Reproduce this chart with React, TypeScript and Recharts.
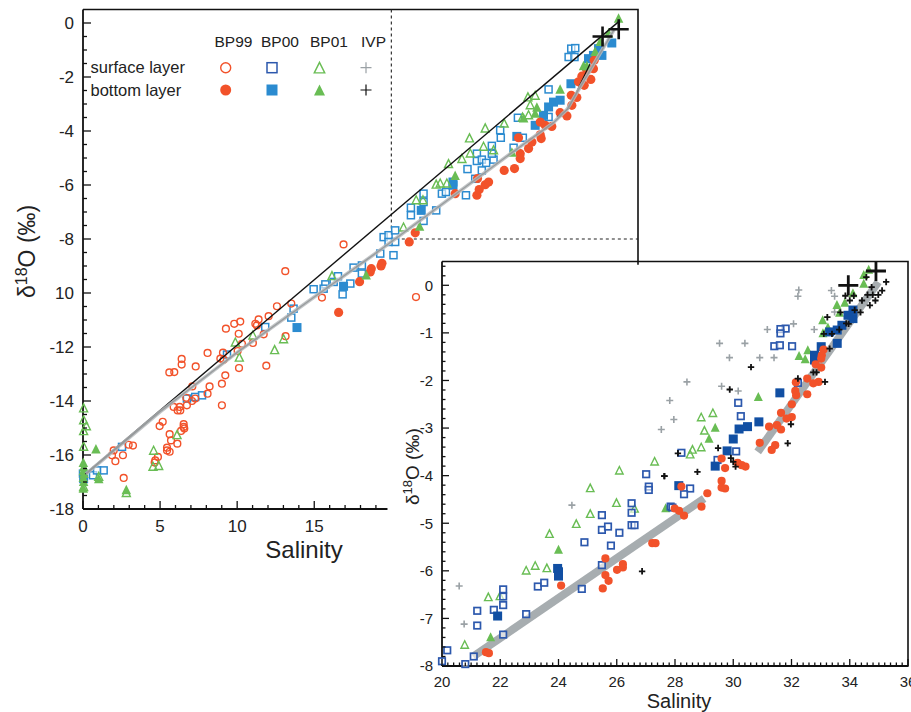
import { ScatterChart, Scatter, XAxis, YAxis } from 'recharts';

type Pt = [number, number];

// main panel as [salinity, d18O]
const bp99Surface: Pt[] = [
  [13.12, -9.19], [15.5, -10.17], [13.51, -10.39], [12.58, -10.49], [11.39, -10.98], [12.04, -10.86], [11.18, -11.14],
  [11.28, -11.2], [10.2, -11.06], [9.81, -11.14], [9.27, -11.32], [10.1, -11.51], [11.72, -11.53], [13.14, -11.6],
  [11.02, -11.85], [10.31, -11.88], [10.03, -12.15], [8.08, -12.22], [9.08, -12.21], [8.91, -12.43], [9.12, -12.47],
  [6.4, -12.44], [6.4, -12.65], [7.31, -12.72], [5.6, -12.94], [5.92, -12.93], [10.12, -12.78], [11.89, -12.69],
  [9.23, -13.05], [9.01, -13.36], [7.09, -13.46], [8.21, -13.46], [8.08, -13.73], [7.28, -13.91], [7.07, -14.0],
  [6.7, -13.88], [6.74, -14.16], [5.88, -14.22], [6.27, -14.22], [6.14, -14.35], [6.31, -14.35], [9.01, -14.16],
  [5.17, -14.77], [4.97, -14.93], [6.53, -14.86], [6.53, -14.96], [6.57, -15.02], [6.36, -15.11], [5.62, -15.23],
  [5.71, -15.46], [6.12, -15.58], [5.45, -15.73], [5.45, -15.83], [5.62, -15.88], [1.99, -15.83], [2.96, -15.62],
  [3.24, -15.65], [1.88, -16.01], [2.59, -16.01], [2.1, -16.23], [4.86, -16.07], [4.69, -16.2], [4.65, -16.28],
  [2.64, -16.85], [16.9, -8.2], [21.6, -10.15],
];
const bp99Bottom: Pt[] = [
  [16.58, -10.72], [17.94, -9.58], [18.63, -9.22], [18.7, -9.1], [19.33, -9.0], [19.39, -8.9], [21.16, -8.11],
  [21.55, -7.77], [24.14, -6.32], [25.55, -6.38], [25.7, -6.17], [26.09, -5.99], [26.31, -5.89], [25.59, -5.76],
  [27.32, -5.46], [27.99, -5.39], [28.36, -5.02], [28.36, -4.84], [28.9, -4.65], [29.12, -4.41], [29.72, -4.28],
  [29.66, -4.14], [30.41, -3.83], [29.98, -3.79], [29.66, -3.67], [30.95, -3.32], [31.39, -3.44], [31.67, -2.68],
  [32.03, -2.76], [31.71, -3.05], [32.51, -2.31], [32.94, -2.09], [32.14, -2.18], [32.36, -1.97], [32.68, -1.75],
  [33.11, -1.69], [33.16, -1.38], [28.25, -4.25],
];
const bp00Surface: Pt[] = [
  [0.0, -16.69], [0.65, -16.75], [1.34, -16.57], [0.91, -16.57], [2.53, -15.7], [6.74, -13.91], [7.28, -13.85],
  [7.72, -13.79], [9.34, -12.28], [11.82, -11.26], [13.51, -10.91], [13.66, -10.58], [14.96, -9.86], [15.72, -9.68],
  [15.61, -9.84], [16.26, -9.59], [16.54, -9.38], [16.84, -10.05], [17.34, -9.65], [17.55, -9.06], [18.09, -8.98],
  [18.09, -9.28], [19.28, -8.54], [20.14, -8.6], [19.5, -7.93], [19.82, -7.86], [20.25, -7.68], [20.25, -8.11],
  [19.82, -8.11], [22.09, -7.33], [22.91, -6.94], [21.27, -7.12], [21.27, -6.84], [22.09, -6.63], [22.09, -6.32],
  [23.28, -6.32], [23.54, -6.26], [24.84, -6.38], [24.94, -5.41], [25.44, -5.77], [25.87, -5.46], [25.55, -5.11],
  [25.55, -4.84], [25.87, -5.06], [26.15, -5.18], [26.63, -5.06], [26.52, -4.55], [26.52, -4.84], [27.1, -4.25],
  [27.06, -3.97], [27.93, -4.62], [28.53, -4.25], [28.21, -3.51], [30.2, -2.46], [30.2, -3.48], [31.5, -1.26],
  [31.88, -1.26], [31.67, -0.95], [31.93, -0.93],
];
const bp00Bottom: Pt[] = [
  [13.88, -11.28], [16.9, -9.75], [0.04, -16.88], [21.94, -6.94], [24.0, -6.01], [24.0, -5.89], [28.14, -4.2],
  [29.33, -3.79], [29.87, -3.42], [30.2, -3.11], [30.52, -2.93], [30.95, -2.86], [31.65, -2.25], [32.79, -1.32],
  [33.11, -1.2], [33.66, -1.2], [33.44, -0.95], [34.3, -0.74],
];
const bp01Surface: Pt[] = [
  [0.04, -14.28], [0.04, -14.72], [0.22, -14.94], [0.04, -15.12], [0.04, -15.7], [9.88, -11.84], [10.14, -12.4],
  [11.02, -11.58], [13.01, -11.72], [12.43, -12.12], [16.15, -9.38], [6.1, -15.27], [4.58, -15.85], [4.54, -16.44],
  [4.91, -16.41], [2.81, -17.41], [1.02, -16.81], [0.04, -17.19], [20.79, -7.58], [22.05, -6.57], [21.61, -6.57],
  [22.91, -5.99], [23.17, -5.95], [23.6, -5.95], [23.71, -5.23], [24.58, -5.04], [25.07, -4.28], [25.12, -4.84],
  [25.98, -4.59], [26.63, -4.72], [26.09, -3.91], [27.32, -3.73], [28.51, -3.51], [28.9, -3.42], [28.86, -2.76],
  [29.33, -2.7], [29.01, -3.05],
];
const bp01Bottom: Pt[] = [
  [0.84, -15.8], [2.81, -17.31], [0.02, -16.3], [0.05, -16.45], [0.02, -16.6], [0.06, -16.7], [0.02, -16.85],
  [0.04, -17.0], [0.02, -17.25], [18.37, -9.35], [1.02, -16.9], [21.83, -7.55], [24.14, -5.67], [29.44, -3.14],
  [29.33, -3.36], [28.58, -3.54], [30.95, -2.47], [32.47, -1.6], [32.68, -1.6], [33.22, -1.07], [33.55, -0.7],
  [34.09, -0.39], [34.74, 0.16], [27.82, -4.81],
];
const ivpMeanMain: Pt[] = [[33.7, -0.5], [34.75, -0.23]];

const mixLineMain: Pt[] = [[0.15, -16.7], [34.75, 0.05]];
const fitLineMain: Pt[] = [
  [0.2, -16.7], [5, -14.4], [10, -12.2], [15, -10.15], [19.3, -8.4], [27.7, -4.85], [30.5, -3.7], [31.4, -3.2], [34.5, -0.2],
];
const fitEdgeMain: Pt[] = [[30.74, -3.48], [31.5, -3.17], [32.9, -1.5]];
const frameMain: Pt[] = [[0, 0.5], [36, 0.5], [36, -8.95]];
const bottomAxisMain: Pt[] = [[0, -18], [19.75, -18]];
const zoomBox: Pt[] = [[20, 0.5], [20, -8], [36, -8]];

// inset panel
const insetBp99Bottom: Pt[] = [
  [21.51, -7.71], [21.61, -7.73], [24.09, -6.31], [25.52, -6.37], [25.72, -6.21], [25.61, -6.09], [25.61, -5.74],
  [26.01, -5.98], [26.21, -5.93], [26.21, -5.86], [27.22, -5.42], [27.33, -5.42], [33.1, -1.35], [33.04, -1.47],
  [33.02, -1.54], [33.02, -1.73], [32.83, -1.66], [32.54, -1.96], [32.93, -2.03], [32.75, -2.06], [32.15, -2.04],
  [32.13, -2.22], [32.16, -2.31], [32.54, -2.29], [32.01, -2.5], [31.64, -2.68], [32.01, -2.77], [31.83, -2.8],
  [31.5, -2.94], [31.64, -3.03], [31.23, -2.97], [30.91, -3.31], [31.44, -3.36], [31.32, -3.46], [29.6, -3.64],
  [29.72, -3.84], [30.15, -3.73], [30.29, -3.78], [30.42, -3.81], [29.6, -4.11], [29.6, -4.25], [29.72, -4.27],
  [29.11, -4.37], [28.22, -4.23], [28.91, -4.65], [27.99, -4.69], [28.14, -4.74], [28.31, -4.84],
];
const insetBp00Surface: Pt[] = [
  [20.0, -7.9], [20.18, -7.67], [20.8, -7.96], [21.09, -7.8], [22.1, -7.34], [21.21, -7.15], [21.21, -6.84],
  [21.78, -6.82], [22.1, -6.72], [22.1, -6.54], [22.1, -6.39], [22.89, -6.91], [23.29, -6.33], [23.51, -6.25],
  [24.8, -6.38], [24.89, -5.4], [25.49, -5.88], [25.8, -5.47], [25.49, -5.14], [25.7, -5.07], [26.09, -5.2],
  [25.49, -4.83], [26.51, -5.04], [26.61, -5.04], [26.51, -4.78], [26.51, -4.58], [27.01, -3.97], [27.1, -4.23],
  [27.1, -4.3], [27.85, -4.65], [31.8, -0.91], [31.62, -0.92], [31.62, -1.01], [31.41, -1.28], [31.6, -1.26],
  [32.02, -1.28], [30.17, -2.47], [30.26, -2.75], [30.1, -3.49], [29.46, -3.67], [28.22, -3.52], [28.52, -4.27],
  [28.31, -4.39], [27.91, -4.67], [32.22, -2.05],
];
const insetBp00Bottom: Pt[] = [
  [21.91, -6.95], [23.97, -5.95], [24.0, -6.02], [24.0, -6.11], [34.11, -0.7], [34.11, -0.52], [33.94, -0.63],
  [33.73, -0.84], [33.57, -0.94], [33.31, -0.98], [33.57, -1.22], [33.02, -1.29], [32.79, -1.47], [32.79, -1.57],
  [31.6, -2.26], [30.88, -2.87], [30.49, -2.97], [30.2, -3.02], [30.0, -3.23], [29.79, -3.48], [29.38, -3.8], [28.13, -4.21],
];
const insetBp01Surface: Pt[] = [
  [20.78, -7.56], [21.59, -6.56], [21.99, -6.54], [22.89, -6.0], [23.2, -5.9], [23.6, -5.95], [23.69, -5.23],
  [24.61, -5.02], [25.09, -4.81], [25.09, -4.27], [25.99, -4.58], [26.09, -3.9], [26.61, -4.7], [27.3, -3.71],
  [29.3, -2.69], [28.9, -2.78], [29.01, -3.06], [28.9, -3.41], [28.6, -3.46], [28.52, -3.56],
];
const insetBp01Bottom: Pt[] = [
  [21.67, -7.4], [24.0, -5.56], [27.68, -4.69], [30.86, -2.35], [29.38, -3.0], [29.17, -3.23], [32.56, -1.37],
  [32.26, -1.49], [32.47, -1.56], [33.25, -0.89], [33.07, -0.74], [33.08, -1.01], [33.56, -0.42], [33.65, -0.58],
  [33.83, -0.37], [34.11, -0.17], [34.48, 0.03], [34.48, 0.21], [34.65, 0.32],
];
const insetIvpSurface: Pt[] = [
  [20.59, -6.32], [20.76, -7.12], [24.46, -4.62], [32.25, -0.1], [32.22, -0.23], [33.37, -0.11], [33.48, -0.23],
  [33.48, -0.56], [32.07, -0.81], [32.78, -0.93], [31.17, -0.93], [29.53, -1.22], [30.4, -1.22], [29.87, -1.52],
  [30.91, -1.52], [31.4, -1.52], [28.41, -2.03], [29.6, -2.12], [30.17, -2.22], [27.82, -2.42], [27.96, -2.82], [27.53, -3.03],
];
const insetIvpBottom: Pt[] = [
  [27.64, -4.01], [26.87, -6.01], [35.25, 0.07], [35.11, -0.11], [34.98, -0.2], [34.88, -0.32], [34.79, -0.2],
  [34.61, -0.2], [34.75, -0.04], [34.69, -0.42], [34.42, -0.32], [34.57, 0.17], [34.37, -0.57], [34.17, -0.52],
  [34.14, -0.22], [33.85, -0.22], [34.0, -0.32], [33.68, -0.57], [33.88, -0.8], [33.96, -0.81], [33.64, -0.93],
  [33.39, -1.02], [33.11, -1.02], [33.23, -0.67], [33.31, -1.33], [32.75, -1.83], [32.86, -1.83], [32.22, -1.96],
  [33.15, -2.03], [31.98, -2.92], [31.87, -3.32], [30.61, -1.72], [29.88, -2.19], [29.48, -3.42], [29.92, -3.63],
  [30.0, -3.71], [30.08, -3.81], [28.1, -3.53], [28.77, -3.92], [27.63, -4.01],
];
const ivpMeanInset: Pt[] = [[33.95, 0.0], [34.9, 0.3]];
const insetFitLow: Pt[] = [[21.07, -7.8], [29.0, -4.48]];
const insetFitHigh: Pt[] = [[30.84, -3.5], [34.98, 0.07]];
const frameInset: Pt[] = [[20, 0.5], [36, 0.5], [36, -8], [20, -8]];

const mainYLabels: Record<string, string> = {
  '0': '0', '-2': '-2', '-4': '-4', '-6': '-6', '-8': '-8', '-10': '10', '-12': '-12', '-14': '-14', '-16': '-16', '-18': '-18',
};

const RED = '#f2522a';
const BLUE = '#2b8bd0';
const BLUE_DARK = '#114fa3';
const BLUE_OPEN = '#2c58ad';
const GREEN = '#69bd54';
const GREY_PLUS = '#9aa1a5';

const range = (from: number, to: number, step: number) => {
  const out: number[] = [];
  for (let i = 0; from + i * step <= to + 1e-6; i++) out.push(+(from + i * step).toFixed(2));
  return out;
};

const pts = (list: Pt[]) => list.map(([s, d]) => ({ s, d }));

const circle = (r: number, color: string, open: boolean, sw = 1.4) => (p: any) => (
  <circle cx={p.cx} cy={p.cy} r={r} fill={open ? 'none' : color} stroke={color} strokeWidth={open ? sw : 0} />
);
const square = (a: number, color: string, open: boolean, sw = 1.5) => (p: any) => (
  <rect x={p.cx - a / 2} y={p.cy - a / 2} width={a} height={a} fill={open ? '#fff' : color} fillOpacity={open ? 0.6 : 1} stroke={open ? color : 'none'} strokeWidth={sw} />
);
const triangle = (a: number, color: string, open: boolean, sw = 1.4) => (p: any) => (
  <path
    d={`M${p.cx} ${p.cy - a * 0.58}L${p.cx + a / 2} ${p.cy + a * 0.42}L${p.cx - a / 2} ${p.cy + a * 0.42}Z`}
    fill={open ? 'none' : color}
    stroke={open ? color : 'none'}
    strokeWidth={sw}
  />
);
const plus = (arm: number, color: string, sw: number) => (p: any) => (
  <path d={`M${p.cx - arm} ${p.cy}H${p.cx + arm}M${p.cx} ${p.cy - arm}V${p.cy + arm}`} stroke={color} strokeWidth={sw} fill="none" />
);
const noMark = () => <g />;

const FONT = '"Liberation Sans", Arial, sans-serif';

const yTick = (major: (v: number) => boolean, long: number, short: number, size: number, label: (v: number) => string) => (p: any) => {
  const v = p.payload.value;
  const isMajor = major(v);
  return (
    <g>
      <line x1={p.x} y1={p.y} x2={p.x + (isMajor ? long : short)} y2={p.y} stroke="#111" strokeWidth={1.3} />
      {isMajor && (
        <text x={p.x - 9} y={p.y + size * 0.36} textAnchor="end" fontSize={size} fontFamily={FONT} fill="#222">
          {label(v)}
        </text>
      )}
    </g>
  );
};
const xTick = (major: (v: number) => boolean, long: number, short: number, size: number, dy: number) => (p: any) => {
  const v = p.payload.value;
  const isMajor = major(v);
  return (
    <g>
      <line x1={p.x} y1={p.y} x2={p.x} y2={p.y - (isMajor ? long : short)} stroke="#111" strokeWidth={1.3} />
      {isMajor && (
        <text x={p.x} y={p.y + dy} textAnchor="middle" fontSize={size} fontFamily={FONT} fill="#222">
          {v}
        </text>
      )}
    </g>
  );
};

const isWhole = (v: number, n: number) => Math.abs(v / n - Math.round(v / n)) < 1e-6;

function MainChart() {
  return (
    <ScatterChart width={911} height={712} margin={{ left: 82, right: 273, top: 9.5, bottom: 202 }} style={{ position: 'absolute', left: 0, top: 0 }}>
      <XAxis
        type="number"
        dataKey="s"
        domain={[0, 36]}
        ticks={range(0, 19, 1)}
        interval={0}
        height={1}
        tickSize={0}
        tickMargin={0}
        axisLine={false}
        tick={xTick((v) => isWhole(v, 5), 8, 4, 17, 23)}
      />
      <YAxis
        type="number"
        dataKey="d"
        domain={[-18, 0.5]}
        ticks={range(-18, 0, 0.5)}
        interval={0}
        width={1}
        tickSize={0}
        tickMargin={0}
        axisLine={{ stroke: '#111', strokeWidth: 1.8 }}
        tick={yTick((v) => isWhole(v, 2), 8, 4, 17, (v) => mainYLabels[String(v)])}
      />
      <Scatter data={pts(frameMain)} shape={noMark} line={{ stroke: '#111', strokeWidth: 1.6 }} isAnimationActive={false} />
      <Scatter data={pts(bottomAxisMain)} shape={noMark} line={{ stroke: '#111', strokeWidth: 1.8 }} isAnimationActive={false} />
      <Scatter data={pts(zoomBox)} shape={noMark} line={{ stroke: '#222', strokeWidth: 1.1, strokeDasharray: '3 3' }} isAnimationActive={false} />
      <Scatter data={pts(bp00Surface)} shape={square(7, BLUE, true)} isAnimationActive={false} />
      <Scatter data={pts(bp00Bottom)} shape={square(9, BLUE, false)} isAnimationActive={false} />
      <Scatter data={pts(bp99Surface)} shape={circle(3.4, RED, true)} isAnimationActive={false} />
      <Scatter data={pts(bp99Bottom)} shape={circle(4.6, RED, false)} isAnimationActive={false} />
      <Scatter data={pts(bp01Surface)} shape={triangle(8, GREEN, true)} isAnimationActive={false} />
      <Scatter data={pts(bp01Bottom)} shape={triangle(9.5, GREEN, false)} isAnimationActive={false} />
      <Scatter data={pts(mixLineMain)} shape={noMark} line={{ stroke: '#111', strokeWidth: 1.4 }} isAnimationActive={false} />
      <Scatter data={pts(fitEdgeMain)} shape={noMark} line={{ stroke: '#111', strokeWidth: 1.2 }} isAnimationActive={false} />
      <Scatter data={pts(fitLineMain)} shape={noMark} line={{ stroke: '#b9bcbe', strokeWidth: 3.6, strokeOpacity: 0.85 }} isAnimationActive={false} />
      <Scatter data={pts(fitLineMain)} shape={noMark} line={{ stroke: '#8f9294', strokeWidth: 1.4, strokeOpacity: 0.8 }} isAnimationActive={false} />
      <Scatter data={pts(ivpMeanMain)} shape={plus(10, '#111', 2.6)} isAnimationActive={false} />
    </ScatterChart>
  );
}

function InsetChart() {
  return (
    <ScatterChart width={911} height={712} margin={{ left: 441, right: 3, top: 261.5, bottom: 45 }} style={{ position: 'absolute', left: 0, top: 0 }}>
      <XAxis
        type="number"
        dataKey="s"
        domain={[20, 36]}
        ticks={range(20, 36, 0.2)}
        interval={0}
        height={1}
        tickSize={0}
        tickMargin={0}
        axisLine={{ stroke: '#111', strokeWidth: 1.8 }}
        tick={xTick((v) => isWhole(v, 2), 7, 3.5, 15, 21)}
      />
      <YAxis
        type="number"
        dataKey="d"
        domain={[-8, 0.5]}
        ticks={range(-8, 0.4, 0.2)}
        interval={0}
        width={1}
        tickSize={0}
        tickMargin={0}
        axisLine={{ stroke: '#111', strokeWidth: 1.8 }}
        tick={yTick((v) => isWhole(v, 1), 7, 3.5, 15, (v) => String(v))}
      />
      <Scatter data={pts(frameInset)} shape={noMark} line={{ stroke: '#111', strokeWidth: 1.6 }} isAnimationActive={false} />
      <Scatter data={pts(insetFitLow)} shape={noMark} line={{ stroke: '#a7adb0', strokeWidth: 8 }} isAnimationActive={false} />
      <Scatter data={pts(insetFitHigh)} shape={noMark} line={{ stroke: '#a7adb0', strokeWidth: 8 }} isAnimationActive={false} />
      <Scatter data={pts(insetIvpSurface)} shape={plus(3.5, GREY_PLUS, 1.6)} isAnimationActive={false} />
      <Scatter data={pts(insetBp01Surface)} shape={triangle(7.5, GREEN, true)} isAnimationActive={false} />
      <Scatter data={pts(insetBp01Bottom)} shape={triangle(9, GREEN, false)} isAnimationActive={false} />
      <Scatter data={pts(insetBp00Surface)} shape={square(6.5, BLUE_OPEN, true, 1.7)} isAnimationActive={false} />
      <Scatter data={pts(insetBp00Bottom)} shape={square(9, BLUE_DARK, false)} isAnimationActive={false} />
      <Scatter data={pts(insetBp99Bottom)} shape={circle(4.1, RED, false)} isAnimationActive={false} />
      <Scatter data={pts(insetIvpBottom)} shape={plus(3.2, '#111', 1.8)} isAnimationActive={false} />
      <Scatter data={pts(ivpMeanInset)} shape={plus(10, '#111', 2.8)} isAnimationActive={false} />
    </ScatterChart>
  );
}

function Annotations() {
  const text = { fontFamily: FONT, fill: '#222' };
  return (
    <svg width={911} height={712} style={{ position: 'absolute', left: 0, top: 0, pointerEvents: 'none' }}>
      <g fontSize={15.5} {...text} textAnchor="middle">
        <text x={233.5} y={47}>BP99</text>
        <text x={280} y={47}>BP00</text>
        <text x={329} y={47}>BP01</text>
        <text x={373.5} y={47}>IVP</text>
      </g>
      <text x={90.5} y={73} fontSize={16.5} {...text}>surface layer</text>
      <text x={90.5} y={96} fontSize={16.5} {...text}>bottom layer</text>
      {circle(5, RED, true, 1.4)({ cx: 225.7, cy: 67.7 })}
      {circle(5.5, RED, false)({ cx: 225.7, cy: 90 })}
      {square(10, BLUE_OPEN, true, 1.5)({ cx: 272, cy: 67.7 })}
      {square(11, BLUE, false)({ cx: 272, cy: 90 })}
      {triangle(10.5, GREEN, true, 1.4)({ cx: 319.5, cy: 68.5 })}
      {triangle(11, GREEN, false)({ cx: 319.5, cy: 91 })}
      {plus(5.5, GREY_PLUS, 1.2)({ cx: 366, cy: 67.7 })}
      {plus(5.5, '#111', 1.2)({ cx: 366, cy: 90 })}
      <text x={304} y={558} fontSize={24} textAnchor="middle" {...text}>Salinity</text>
      <text x={679} y={708} fontSize={20} textAnchor="middle" {...text}>Salinity</text>
      <text transform="rotate(-90 35 298)" x={35} y={298} fontSize={23} {...text}>
        δ<tspan dy={-8} fontSize={16}>18</tspan><tspan dy={8}>O (‰)</tspan>
      </text>
      <text transform="rotate(-90 419 505)" x={419} y={505} fontSize={19} {...text}>
        δ<tspan dy={-7} fontSize={13}>18</tspan><tspan dy={7}>O (‰)</tspan>
      </text>
    </svg>
  );
}

export default function App() {
  return (
    <div style={{ position: 'absolute', left: 0, top: 0, width: 911, height: 712, background: '#fff', overflow: 'hidden' }}>
      <MainChart />
      <InsetChart />
      <Annotations />
    </div>
  );
}
